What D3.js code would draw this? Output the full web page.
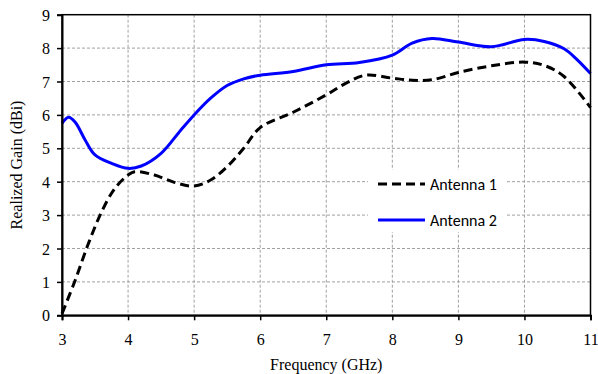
<!DOCTYPE html>
<html><head><meta charset="utf-8">
<script src="https://cdn.jsdelivr.net/npm/d3@7"></script>
<style>body{margin:0;background:#fff}svg{display:block}</style>
</head><body>
<svg id="c" width="598" height="374"></svg>
<script>
const freq1 = [3.0,3.2,3.4,3.6,3.8,4.0,4.1,4.4,4.7,5.0,5.25,5.5,5.75,6.0,6.5,7.0,7.3,7.6,8.0,8.3,8.6,9.0,9.5,10.0,10.3,10.6,11.0];
const gain1 = [0.05,1.05,2.15,3.1,3.8,4.2,4.3,4.2,3.98,3.87,4.05,4.45,5.0,5.62,6.08,6.6,6.95,7.19,7.1,7.04,7.05,7.27,7.47,7.58,7.48,7.15,6.22];
const freq2 = [3.0,3.1,3.2,3.35,3.5,3.75,4.0,4.2,4.5,4.8,5.0,5.25,5.5,5.75,6.0,6.5,7.0,7.5,8.0,8.3,8.6,9.0,9.5,10.0,10.3,10.6,10.8,11.0];
const gain2 = [5.75,5.93,5.78,5.25,4.8,4.55,4.4,4.47,4.85,5.55,6.0,6.5,6.88,7.08,7.19,7.3,7.5,7.57,7.79,8.15,8.29,8.18,8.04,8.26,8.2,7.98,7.65,7.24];
const xTicks = [3,4,5,6,7,8,9,10,11];
const yTicks = [0,1,2,3,4,5,6,7,8,9];
const seriesNames = ["Antenna 1","Antenna 2"];

const svg = d3.select("#c");
const L=62, R=590.5, T=14.7, B=315.3;
const x = d3.scaleLinear().domain([3,11]).range([L,R]);
const y = d3.scaleLinear().domain([0,9]).range([B,T]);
const serif = "'Liberation Serif','Times New Roman',serif";

// grid
const g = svg.append("g");
g.selectAll(".vg").data(xTicks.slice(1,-1)).join("line")
  .attr("x1",d=>x(d)).attr("x2",d=>x(d)).attr("y1",T).attr("y2",B)
  .attr("stroke","#a0a0a0").attr("stroke-width",1).attr("stroke-dasharray","3,2");
g.selectAll(".hg").data(yTicks.slice(1,-1)).join("line")
  .attr("y1",d=>y(d)).attr("y2",d=>y(d)).attr("x1",L).attr("x2",R)
  .attr("stroke","#a0a0a0").attr("stroke-width",1).attr("stroke-dasharray","3,2");

// legend background (hides grid)
const lg = svg.append("g");
lg.append("rect").attr("x",368).attr("y",170).attr("width",138).attr("height",62).attr("fill","#fff");

// lines
const line = (fx,gy)=>d3.line().x((d,i)=>x(fx[i])).y(d=>y(d)).curve(d3.curveCatmullRom.alpha(0.5))(gy);
svg.append("path").attr("d",line(freq1,gain1)).attr("fill","none").attr("stroke","#000")
  .attr("stroke-width",3).attr("stroke-dasharray","9,5");
svg.append("path").attr("d",line(freq2,gain2)).attr("fill","none").attr("stroke","#0000ff")
  .attr("stroke-width",3);

// frame
svg.append("rect").attr("x",L).attr("y",T).attr("width",R-L).attr("height",B-T)
  .attr("fill","none").attr("stroke","#000").attr("stroke-width",1.5);

// axes
const xa = svg.append("g").attr("transform",`translate(0,${B})`)
  .call(d3.axisBottom(x).tickValues(xTicks).tickSize(5).tickFormat(d3.format("d")));
const ya = svg.append("g").attr("transform",`translate(${L},0)`)
  .call(d3.axisLeft(y).tickValues(yTicks).tickSize(5).tickFormat(d3.format("d")));
[xa,ya].forEach(a=>{
  a.select(".domain").attr("stroke","#000").attr("stroke-width",2);
  a.selectAll(".tick line").attr("stroke","#000").attr("stroke-width",1.5);
  a.selectAll("text").attr("font-family",serif).attr("font-size",16).attr("fill","#000");
});
xa.selectAll("text").attr("dy","0").attr("y",30);
ya.selectAll("text").attr("x",-12).attr("dy","0.35em");

// titles
svg.append("text").attr("x",(L+R)/2).attr("y",370).attr("text-anchor","middle")
  .attr("font-family",serif).attr("font-size",16).text("Frequency (GHz)");
svg.append("text").attr("transform","translate(22,165) rotate(-90)").attr("text-anchor","middle")
  .attr("font-family",serif).attr("font-size",16).text("Realized Gain (dBi)");

// legend
const sans = "Carlito,'Open Sans','Liberation Sans',sans-serif";
const ly=[184,220];
lg.append("line").attr("x1",378).attr("x2",425).attr("y1",ly[0]).attr("y2",ly[0])
  .attr("stroke","#000").attr("stroke-width",3).attr("stroke-dasharray","9,5");
lg.append("line").attr("x1",378).attr("x2",425).attr("y1",ly[1]).attr("y2",ly[1])
  .attr("stroke","#0000ff").attr("stroke-width",3);
seriesNames.forEach((n,i)=>{
  lg.append("text").attr("x",430).attr("y",ly[i]).attr("dy","0.35em")
    .attr("font-family",sans).attr("font-size",16).text(n);
});
</script>
</body></html>
